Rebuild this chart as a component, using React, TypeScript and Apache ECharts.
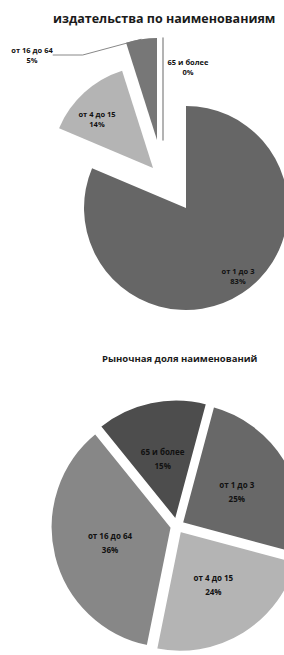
import React, { useEffect, useRef } from "react";
import * as echarts from "echarts";

// Categories (clockwise order)
const categories = ["от 1 до 3", "от 4 до 15", "от 16 до 64", "65 и более"];

// Top chart: share of publishers by number of titles (%)
const topTitle = "издательства по наименованиям";
const topValues = [83, 14, 5, 0];

// Bottom chart: market share of titles (%)
const bottomTitle = "Рыночная доля наименований";
const bottomValues = [25, 24, 36, 15];

// Styles / layout (not data)
const topColors = ["#666666", "#b4b4b4", "#777777", "#ffffff"];
const bottomColors = ["#686868", "#b4b4b4", "#878787", "#4d4d4d"];
const topCenters: [number, number][] = [
  [186, 208],
  [153, 168],
  [157, 140],
  [163, 140],
];
const topLabelPos: [number, number][] = [
  [238, 276],
  [97, 119],
  [32, 55],
  [188, 67],
];
const bottomLabelPos: [number, number][] = [
  [268, 480],
  [238, 620],
  [78, 556],
  [157, 425],
];

const FONT = "'Open Sans', 'Noto Sans', sans-serif";

export default function App() {
  const ref = useRef<HTMLDivElement>(null);

  useEffect(() => {
    document.body.style.margin = "0";
    if (!ref.current) return;
    const chart = echarts.init(ref.current, null, { renderer: "svg" });

    const labelBase = {
      fontFamily: FONT,
      fontWeight: "bold" as const,
      color: "#111111",
      align: "center" as const,
      formatter: (p: any) => `${p.name}\n${p.value}%`,
    };

    const topSeries = categories.map((_, k) => ({
      type: "pie" as const,
      center: topCenters[k],
      radius: [0, 102],
      startAngle: 90,
      clockwise: true,
      silent: true,
      avoidLabelOverlap: false,
      z: k === 3 ? 5 : 2,
      labelLayout: {
        x: topLabelPos[k][0],
        y: topLabelPos[k][1],
        align: "center",
        verticalAlign: "middle",
      },
      data: categories.map((name, i) => ({
        name,
        value: topValues[i],
        itemStyle:
          i === k
            ? k === 3
              ? { color: "#ffffff", borderColor: "#9a9a9a", borderWidth: 1.5 }
              : { color: topColors[i] }
            : { color: "rgba(0,0,0,0)", borderWidth: 0 },
        label:
          i === k
            ? {
                show: true,
                position: k === 2 ? "outside" : "inside",
                fontSize: 7.5,
                lineHeight: 10,
                ...labelBase,
              }
            : { show: false },
        labelLine:
          i === k && k === 2
            ? { show: true, length: 8, length2: 30, lineStyle: { color: "#888", width: 1 } }
            : { show: false },
      })),
    }));

    const bottomSeries = {
      type: "pie" as const,
      center: [177, 526],
      radius: [0, 122],
      startAngle: 75,
      clockwise: true,
      silent: true,
      selectedMode: "multiple" as const,
      selectedOffset: 5,
      avoidLabelOverlap: false,
      labelLayout: (p: any) => ({
        x: bottomLabelPos[p.dataIndex][0],
        y: bottomLabelPos[p.dataIndex][1],
        align: "center",
        verticalAlign: "middle",
      }),
      itemStyle: { borderColor: "#ffffff", borderWidth: 3 },
      label: {
        show: true,
        position: "inside" as const,
        fontSize: 8,
        lineHeight: 14,
        ...labelBase,
      },
      labelLine: { show: false },
      data: categories.map((name, i) => ({
        name,
        value: bottomValues[i],
        selected: true,
        itemStyle: { color: bottomColors[i] },
      })),
    };

    chart.setOption({
      animation: false,
      backgroundColor: "#ffffff",
      title: [
        {
          text: topTitle,
          left: 48,
          top: 7,
          textStyle: {
            fontFamily: FONT,
            fontWeight: "bold",
            fontSize: 12.5,
            color: "#1a1a1a",
          },
        },
        {
          text: bottomTitle,
          left: 97,
          top: 348,
          textStyle: {
            fontFamily: FONT,
            fontWeight: "bold",
            fontSize: 9.5,
            color: "#1a1a1a",
          },
        },
      ],
      series: [...topSeries, bottomSeries],
    });

    return () => chart.dispose();
  }, []);

  return <div ref={ref} style={{ width: 284, height: 655 }} />;
}
